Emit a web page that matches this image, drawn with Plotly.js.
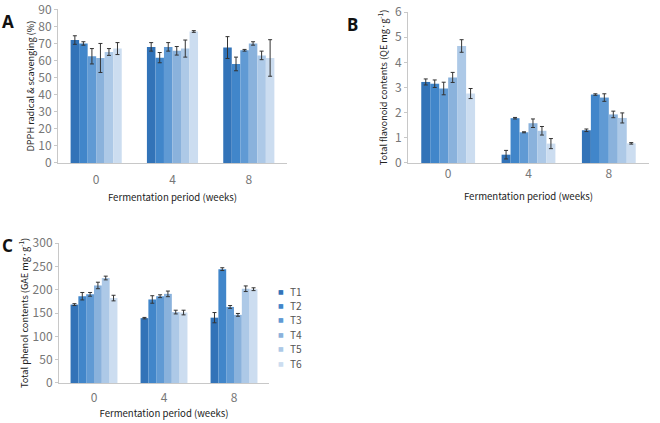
<!DOCTYPE html>
<html>
<head>
<meta charset="utf-8">
<script src="https://cdn.plot.ly/plotly-3.0.1.min.js"></script>
<style>html,body{margin:0;padding:0;background:#fff;}#chart{width:660px;height:423px;}</style>
</head>
<body>
<div id="chart"></div>
<script>
const weeks = ["0", "4", "8"];
const treatments = ["T1", "T2", "T3", "T4", "T5", "T6"];
const colors = ["#3273b8", "#4186ca", "#609ad4", "#8ab2dc", "#adc9e7", "#ccddf0"];

// Panel A: DPPH radical scavenging (%) per treatment, for weeks 0, 4, 8
const dpph = [
  [72, 68, 67.6],
  [70, 61.7, 58],
  [62.5, 68, 66],
  [61.5, 65.7, 70],
  [65, 67, 63],
  [67, 77, 61.5]
];
const dpphErr = [
  [2.5, 2.5, 6.4],
  [1, 3, 4],
  [4.5, 2.5, 0.5],
  [8.5, 2.5, 1],
  [2, 5, 2.5],
  [3.5, 0.5, 10.7]
];

// Panel B: total flavonoid contents (QE mg/g)
const flav = [
  [3.22, 0.33, 1.3],
  [3.15, 1.78, 2.72],
  [2.96, 1.22, 2.6],
  [3.4, 1.58, 1.93],
  [4.65, 1.28, 1.79],
  [2.76, 0.77, 0.78]
];
const flavErr = [
  [0.12, 0.17, 0.05],
  [0.15, 0.03, 0.03],
  [0.25, 0.02, 0.15],
  [0.2, 0.17, 0.13],
  [0.25, 0.17, 0.2],
  [0.2, 0.2, 0.03]
];

// Panel C: total phenol contents (GAE mg/g)
const phenol = [
  [168, 139, 140],
  [186, 179, 244],
  [190, 186, 163],
  [209, 191, 146],
  [225, 152, 202],
  [182, 151, 201]
];
const phenolErr = [
  [2, 1.5, 11],
  [8, 8, 3],
  [4, 3, 3],
  [7, 6, 3],
  [4, 4, 6],
  [6, 5, 3]
];

const traces = [];
const panels = [
  {vals: dpph, errs: dpphErr, xa: "x", ya: "y"},
  {vals: flav, errs: flavErr, xa: "x2", ya: "y2"},
  {vals: phenol, errs: phenolErr, xa: "x3", ya: "y3"}
];
panels.forEach(p => {
  treatments.forEach((t, i) => {
    traces.push({
      type: "bar",
      name: t,
      x: weeks,
      y: p.vals[i],
      xaxis: p.xa,
      yaxis: p.ya,
      marker: {color: colors[i], line: {width: 0}},
      error_y: {type: "data", array: p.errs[i], visible: true, color: "#333", thickness: 1, width: 2},
      showlegend: false,
      hoverinfo: "skip"
    });
  });
});

const FAM = "Noto Sans CJK KR, Open Sans, sans-serif";
const tickFont = {family: FAM, size: 12, color: "#777"};
const xTitleFont = {family: FAM, size: 9.6, color: "#222"};
const yTitleFont = {family: FAM, size: 9.2, color: "#222"};

function xax(domain, anchor, ticklen, standoff) {
  return {
    domain: domain, anchor: anchor, type: "category",
    showline: true, linecolor: "#c8c8c8", linewidth: 1,
    ticks: ticklen > 0 ? "outside" : "", ticklen: ticklen, tickcolor: "rgba(0,0,0,0)",
    showgrid: false, zeroline: false,
    tickfont: tickFont,
    title: {text: "Fermentation period (weeks)", font: xTitleFont, standoff: standoff},
    fixedrange: true
  };
}
function yax(domain, anchor, range, dtick, title, standoff) {
  return {
    domain: domain, anchor: anchor, range: range, dtick: dtick,
    showline: true, linecolor: "#c8c8c8", linewidth: 1,
    ticks: "outside", ticklen: 3, tickcolor: "#c8c8c8",
    showgrid: false, zeroline: false,
    tickfont: tickFont, ticklabeloverflow: "allow",
    title: {text: title, font: yTitleFont, standoff: standoff},
    fixedrange: true
  };
}

// legend drawn as text entries next to the panel C chart
const legendAnnots = [];
treatments.forEach((t, i) => {
  const yy = 1 - (291 + 14.4 * i) / 423;
  legendAnnots.push({text: "■", x: 281 / 660, y: yy, xref: "paper", yref: "paper", xanchor: "center", yanchor: "middle",
    showarrow: false, borderpad: 0, font: {family: "DejaVu Sans, sans-serif", size: 6, color: colors[i]}});
  legendAnnots.push({text: t, x: 289 / 660, y: yy, xref: "paper", yref: "paper", xanchor: "left", yanchor: "middle",
    showarrow: false, borderpad: 0, font: {family: FAM, size: 10.2, color: "#555"}});
});

const layout = {
  width: 660, height: 423,
  margin: {l: 0, r: 0, t: 0, b: 0},
  paper_bgcolor: "#fff", plot_bgcolor: "#fff",
  barmode: "group", bargap: 0.33, bargroupgap: 0,
  showlegend: false,
  xaxis: xax([0.0879, 0.4348], "y", 6, 7),
  yaxis: yax([0.6147, 0.978], "x", [0, 90], 10, "DPPH radical &amp; scavenging (%)", 2),
  xaxis2: xax([0.6182, 0.9833], "y2", 0, 12),
  yaxis2: yax([0.6147, 0.9716], "x2", [0, 6], 1, "Total flavonoid contents (QE mg·g<sup>-1</sup>)", 5),
  xaxis3: xax([0.0894, 0.4076], "y3", 4, 5),
  yaxis3: yax([0.0946, 0.4255], "x3", [0, 300], 50, "Total phenol contents (GAE mg·g<sup>-1</sup>)", 2),
  annotations: [
    {text: "<b>A</b>", x: 0, y: 0.982, xref: "paper", yref: "paper", xanchor: "left", yanchor: "top", showarrow: false, font: {family: "Noto Sans, sans-serif", size: 17, color: "#111"}},
    {text: "<b>B</b>", x: 0.523, y: 0.975, xref: "paper", yref: "paper", xanchor: "left", yanchor: "top", showarrow: false, font: {family: "Noto Sans, sans-serif", size: 17, color: "#111"}},
    {text: "<b>C</b>", x: 0, y: 0.452, xref: "paper", yref: "paper", xanchor: "left", yanchor: "top", showarrow: false, font: {family: "Noto Sans, sans-serif", size: 17, color: "#111"}}
  ].concat(legendAnnots)
};

Plotly.newPlot("chart", traces, layout, {staticPlot: true, displayModeBar: false});
</script>
</body>
</html>
